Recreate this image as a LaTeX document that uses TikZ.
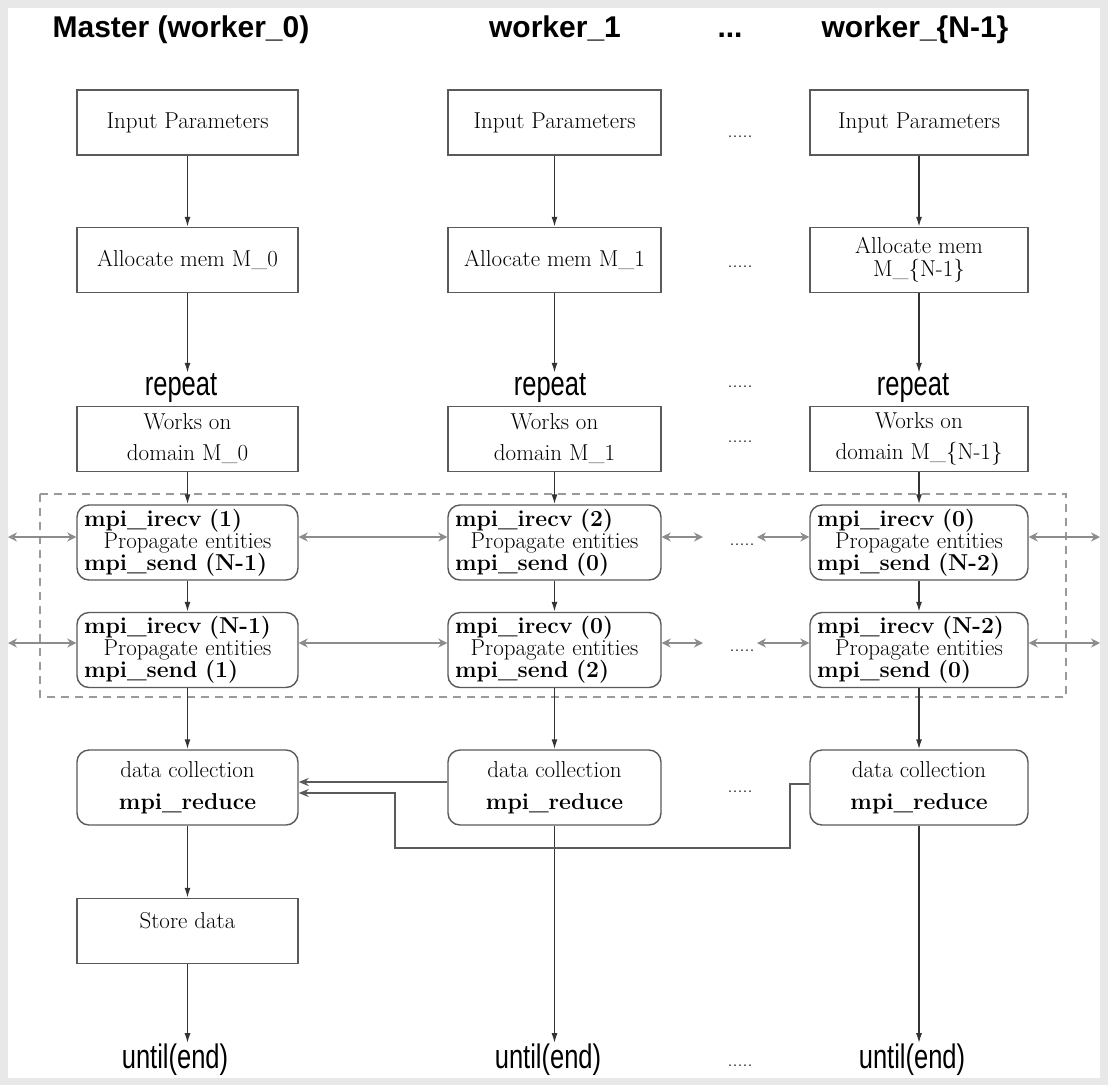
\documentclass[tikz,border=0pt]{standalone}
\usepackage{fontspec}
\newfontfamily\headfont{Liberation Sans}
\newfontfamily\flowfont[FakeStretch=0.75]{Liberation Sans}
\usetikzlibrary{arrows.meta,calc}

\definecolor{framegrey}{HTML}{E8E8E8}
\definecolor{boxline}{HTML}{5A5A5A}
\definecolor{flowline}{HTML}{333333}
\definecolor{linkgrey}{HTML}{8C8C8C}
\definecolor{dashgrey}{HTML}{9A9A9A}

% three-line exchange block: bold calls left aligned, middle line centred
\newcommand\exchangetext[2]{\textbf{mpi\_irecv (#1)}\\\hfill Propagate entities\hfill\null\\\textbf{mpi\_send (#2)}}

\begin{document}
\begin{tikzpicture}[x=1pt,y=-1pt,
  every node/.style={inner sep=0pt},
  plainbox/.style={draw=boxline, line width=1.4pt, minimum height=65pt,
    align=center, font=\fontsize{23}{26}\selectfont},
  roundbox/.style={plainbox, rounded corners=12pt, minimum height=75pt},
  mpibox/.style={roundbox, align=left, font=\fontsize{23}{22}\selectfont},
  gatherbox/.style={roundbox, font=\fontsize{23}{32}\selectfont},
  wA/.style={minimum width=221pt}, wB/.style={minimum width=213pt}, wC/.style={minimum width=218pt},
  tA/.style={text width=207pt}, tB/.style={text width=199pt}, tC/.style={text width=204pt},
  title/.style={anchor=base, font=\headfont\bfseries\fontsize{30}{34}\selectfont},
  flowtext/.style={anchor=base, font=\flowfont\fontsize{34}{38}\selectfont},
  dots/.style={anchor=base, font=\fontsize{20}{24}\selectfont},
  flow/.style={draw=flowline, line width=1.5pt, -{Latex[length=10pt,width=6pt]}},
  xchg/.style={draw=linkgrey, line width=2pt,
    {Stealth[open,length=9pt,width=9pt]}-{Stealth[open,length=9pt,width=9pt]}},
  gather/.style={draw=boxline, line width=1.5pt, -{Stealth[open,length=10pt,width=8pt]}}
]
\useasboundingbox (0,0) rectangle (1108,1085);
\fill[framegrey] (0,0) rectangle (1108,1085);
\fill[white] (8,8) rectangle (1100,1078);

% column headings
\node[title] (h1) at (181,37) {Master (worker\_0)};
\node[title] (h2) at (555,37) {worker\_1};
\node[title] (h3) at (730,37) {...};
\node[title] (h4) at (915,37) {worker\_\{N-1\}};

% set-up boxes
\node[plainbox,wA] (in1) at (187.5,122.5) {Input Parameters};
\node[plainbox,wB] (in2) at (554.5,122.5) {Input Parameters};
\node[plainbox,wC] (in3) at (919,122.5) {Input Parameters};
\node[dots] (dt1) at (740,137) {.....};

\node[plainbox,wA] (al1) at (187.5,260) {Allocate mem M\_0};
\node[plainbox,wB] (al2) at (554.5,260) {Allocate mem M\_1};
\node[plainbox,wC,font=\fontsize{23}{23}\selectfont] (al3) at (919,260) {Allocate mem\\M\_\{N-1\}};
\node[dots] (dt2) at (740,267) {.....};

% loop start
\node[flowtext] (rp1) at (181,395) {repeat};
\node[flowtext] (rp2) at (550,395) {repeat};
\node[flowtext] (rp3) at (913,395) {repeat};
\node[dots] (dt3) at (740,387) {.....};

\node[plainbox,wA,font=\fontsize{23}{31}\selectfont] (wk1) at (187.5,439) {Works on\\domain M\_0};
\node[plainbox,wB,font=\fontsize{23}{31}\selectfont] (wk2) at (554.5,439) {Works on\\domain M\_1};
\node[plainbox,wC,font=\fontsize{23}{31}\selectfont] (wk3) at (919,439) {Works on\\domain M\_\{N-1\}};
\node[dots] (dt4) at (740,442) {.....};

% communication region
\draw[dashgrey, line width=1.5pt, dash pattern=on 8pt off 6pt] (40,494) rectangle (1066,697);

\node[mpibox,wA,tA] (ma1) at (187.5,542.5) {\exchangetext{1}{N-1}};
\node[mpibox,wB,tB] (ma2) at (554.5,542.5) {\exchangetext{2}{0}};
\node[mpibox,wC,tC] (ma3) at (919,542.5) {\exchangetext{0}{N-2}};
\node[dots] (dt5) at (742,545) {.....};

\node[mpibox,wA,tA] (mb1) at (187.5,650) {\exchangetext{N-1}{1}};
\node[mpibox,wB,tB] (mb2) at (554.5,650) {\exchangetext{0}{2}};
\node[mpibox,wC,tC] (mb3) at (919,650) {\exchangetext{N-2}{0}};
\node[dots] (dt6) at (742,651) {.....};

% reduction
\node[gatherbox,wA] (dc1) at (187.5,787.5) {data collection\\\textbf{mpi\_reduce}};
\node[gatherbox,wB] (dc2) at (554.5,787.5) {data collection\\\textbf{mpi\_reduce}};
\node[gatherbox,wC] (dc3) at (919,787.5) {data collection\\\textbf{mpi\_reduce}};
\node[dots] (dt7) at (740,792) {.....};

\node[plainbox,wA,text depth=22pt] (st1) at (187.5,931) {Store data};

% loop end
\node[flowtext] (un1) at (175,1068) {until(end)};
\node[flowtext] (un2) at (548,1068) {until(end)};
\node[flowtext] (un3) at (912,1068) {until(end)};
\node[dots] (dt8) at (740,1066) {.....};

% vertical flow
\foreach \c in {1,2,3}{
  \draw[flow] (in\c) -- (al\c);
  \draw[flow] (al\c.south) -- (al\c.south |- rp\c.north);
  \draw[flow] (wk\c) -- (ma\c);
  \draw[flow] (ma\c) -- (mb\c);
  \draw[flow] (mb\c) -- (dc\c);
}
\draw[flow] (dc1) -- (st1);
\draw[flow] (st1.south) -- (st1.south |- un1.north);
\draw[flow] (dc2.south) -- (dc2.south |- un2.north);
\draw[flow] (dc3.south) -- (dc3.south |- un3.north);

% neighbour exchanges
\coordinate (edgeL1) at (8,537);
\coordinate (edgeR1) at (1100,537);
\coordinate (gapA1) at (703,537);
\coordinate (gapB1) at (757,537);
\coordinate (edgeL2) at (8,643);
\coordinate (edgeR2) at (1100,643);
\coordinate (gapA2) at (703,643);
\coordinate (gapB2) at (757,643);

\draw[xchg] (edgeL1) -- (ma1.west |- edgeL1);
\draw[xchg] (ma1.east |- edgeL1) -- (ma2.west |- edgeL1);
\draw[xchg] (ma2.east |- edgeL1) -- (gapA1);
\draw[xchg] (gapB1) -- (ma3.west |- gapB1);
\draw[xchg] (ma3.east |- edgeR1) -- (edgeR1);

\draw[xchg] (edgeL2) -- (mb1.west |- edgeL2);
\draw[xchg] (mb1.east |- edgeL2) -- (mb2.west |- edgeL2);
\draw[xchg] (mb2.east |- edgeL2) -- (gapA2);
\draw[xchg] (gapB2) -- (mb3.west |- gapB2);
\draw[xchg] (mb3.east |- edgeR2) -- (edgeR2);

% gathering onto the master
\coordinate (g1) at (dc2.west |- 0,782);
\draw[gather] (g1) -- (dc1.east |- g1);
\coordinate (g2) at (dc3.west |- 0,784);
\coordinate (g3) at (790,784);
\coordinate (g4) at (790,848);
\coordinate (g5) at (395,848);
\coordinate (g6) at (395,793);
\draw[gather] (g2) -- (g3) -- (g4) -- (g5) -- (g6) -- (dc1.east |- g6);
\end{tikzpicture}
\end{document}
